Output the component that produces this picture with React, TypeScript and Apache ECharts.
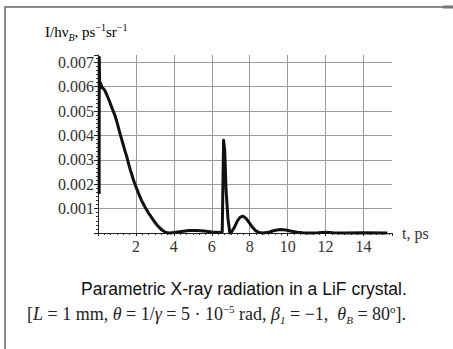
import React, { useEffect, useRef } from "react";
import * as echarts from "echarts";

const timePs: number[] = [
  0.06, 0.063, 0.066, 0.09, 0.13, 0.2, 0.36, 0.5, 0.62, 0.75, 0.89, 1.0, 1.1, 1.2, 1.3, 1.41, 1.52, 1.61, 1.7, 1.79, 1.87,
  1.96, 2.05, 2.13, 2.21, 2.3, 2.4, 2.48, 2.57, 2.66, 2.75, 2.84, 2.92, 3.01, 3.1, 3.19, 3.28, 3.36, 3.45, 3.54,
  3.63, 3.8, 4.0, 4.4, 4.8, 5.2, 5.6, 6.0, 6.4, 6.55, 6.62, 6.68, 6.75, 6.85, 6.95, 7.05, 7.2, 7.35, 7.5, 7.65,
  7.8, 7.95, 8.1, 8.3, 8.5, 8.7, 9.0, 9.3, 9.6, 9.9, 10.2, 10.5, 10.8, 11.2, 11.6, 12.0, 12.4, 13.0, 14.0, 15.25,
];
const intensity: number[] = [
  0.0016, 0.0045, 0.0072, 0.0059, 0.00615, 0.006, 0.00585, 0.0056, 0.00537, 0.0051, 0.00483, 0.00455, 0.00425, 0.00397,
  0.0037, 0.0034, 0.00312, 0.00285, 0.0026, 0.00238, 0.00217, 0.00198, 0.0018, 0.00164, 0.00149, 0.00133,
  0.00118, 0.00106, 0.00094, 0.00082, 0.00072, 0.00062, 0.00053, 0.00043, 0.00034, 0.00026, 0.00019, 0.00013,
  0.00008, 0.00004, 0.00001, 0.0, 0.00002, 0.00006, 0.0001, 0.0001, 0.00008, 0.00004, 0.00002, 0.00005, 0.0038,
  0.0034, 0.0018, 0.0006, 0.0, 0.00005, 0.00025, 0.0005, 0.00065, 0.00069, 0.0006, 0.00045, 0.00028, 0.0001,
  0.00002, 0.0, 0.00003, 0.0001, 0.00014, 0.00012, 0.00007, 0.00003, 0.00001, 0.0, 0.00001, 0.00003, 0.00001,
  0.0, 0.00001, 0.0,
];
const xTickStep = 2;
const yTickStep = 0.001;
const xMax = 15.5;
const yMax = 0.0073;

const SERIF = "'Liberation Serif', 'DejaVu Serif', serif";
const SANS = "'Liberation Sans', Arial, sans-serif";

export default function App() {
  const ref = useRef<HTMLDivElement>(null);
  useEffect(() => {
    if (!ref.current) return;
    const chart = echarts.init(ref.current, undefined, { renderer: "svg" });
    const data = timePs.map((t, i) => [t, intensity[i]]);
    chart.setOption({
      animation: false,
      backgroundColor: "#ffffff",
      grid: { left: 98, right: 61, top: 55, bottom: 116, containLabel: false },
      xAxis: {
        type: "value",
        min: 0,
        max: xMax,
        interval: xTickStep,
        name: "t, ps",
        nameLocation: "end",
        nameGap: 10,
        nameTextStyle: { fontFamily: SERIF, fontSize: 16, color: "#333", verticalAlign: "middle" },
        axisLine: { show: true, lineStyle: { color: "#222", width: 1 } },
        axisTick: { show: true, inside: false, length: 3, lineStyle: { color: "#222" } },
        minorTick: { show: true, splitNumber: 6, length: 2, lineStyle: { color: "#333" } },
        axisLabel: {
          fontFamily: SERIF,
          fontSize: 16,
          color: "#333",
          margin: 5,
          showMaxLabel: false,
          formatter: (v: number) => (v === 0 || Math.abs(v % 2) > 1e-9 ? "" : String(v)),
        },
        splitLine: { show: true, showMinLine: false, showMaxLine: false, lineStyle: { color: "#9a9a9a", width: 1 } },
      },
      yAxis: {
        type: "value",
        min: 0,
        max: yMax,
        interval: yTickStep,
        axisLine: { show: true, lineStyle: { color: "#222", width: 1 } },
        axisTick: { show: true, length: 4, lineStyle: { color: "#222" } },
        minorTick: { show: true, splitNumber: 6, length: 2, lineStyle: { color: "#333" } },
        axisLabel: {
          fontFamily: SERIF,
          fontSize: 16,
          color: "#333",
          margin: 4,
          showMaxLabel: false,
          formatter: (v: number) => {
            const k = Math.round(v / 0.001);
            if (v === 0 || Math.abs(v / 0.001 - k) > 1e-6) return "";
            return v.toFixed(3);
          },
        },
        splitLine: { show: true, showMinLine: false, showMaxLine: false, lineStyle: { color: "#9a9a9a", width: 1 } },
      },
      series: [
        {
          type: "line",
          data,
          showSymbol: false,
          smooth: false,
          clip: false,
          z: 5,
          lineStyle: { color: "#111", width: 3, join: "round" },
        },
      ],
      graphic: [
        { type: "line", shape: { x1: 4, y1: 7, x2: 453, y2: 7 }, style: { stroke: "#8a8a8a", lineWidth: 2 } },
        { type: "line", shape: { x1: 443, y1: 7, x2: 453, y2: 7 }, style: { stroke: "#777", lineWidth: 3 } },
        { type: "line", shape: { x1: 5, y1: 6, x2: 5, y2: 349 }, style: { stroke: "#8a8a8a", lineWidth: 2 } },
        {
          type: "text",
          left: 45,
          top: 22,
          style: {
            text: "{n|I/hν}{s|B}{n|, ps}{p|−1}{n|sr}{p|−1}",
            rich: {
              n: { fontFamily: SERIF, fontSize: 15, color: "#333", lineHeight: 20, verticalAlign: "middle" },
              s: { fontFamily: SERIF, fontSize: 10, fontStyle: "italic", color: "#333", verticalAlign: "bottom", lineHeight: 20 },
              p: { fontFamily: SERIF, fontSize: 10, color: "#333", verticalAlign: "top", lineHeight: 20 },
            },
          },
        },
        {
          type: "text",
          left: 81,
          top: 280,
          style: {
            text: "Parametric X-ray radiation in a LiF crystal.",
            fontFamily: SANS,
            fontSize: 17.5,
            fill: "#111",
          },
        },
        {
          type: "text",
          left: 27,
          top: 303,
          style: {
            text: "[{i|L} = 1 mm, {i|θ} = 1/{i|γ} = 5 · 10{p|−5} rad, {i|β}{s|1} = −1,  {i|θ}{s|B} = 80{p|o}].",
            fontFamily: SERIF,
            fontSize: 18,
            fill: "#222",
            rich: {
              i: { fontFamily: SERIF, fontSize: 18, fontStyle: "italic", color: "#222", lineHeight: 22 },
              s: { fontFamily: SERIF, fontSize: 11, fontStyle: "italic", color: "#222", verticalAlign: "bottom", lineHeight: 22 },
              p: { fontFamily: SERIF, fontSize: 11, color: "#222", verticalAlign: "top", lineHeight: 22 },
            },
          },
        },
      ],
    });
    return () => chart.dispose();
  }, []);
  return (
    <div
      ref={ref}
      style={{ position: "fixed", left: 0, top: 0, width: 453, height: 349, background: "#fff" }}
    />
  );
}
